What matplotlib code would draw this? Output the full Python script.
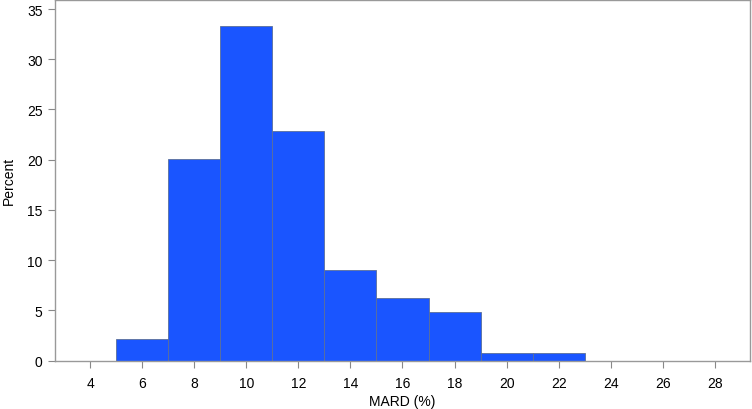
import numpy as np
import matplotlib.pyplot as plt

plt.rcParams['font.family'] = ['Liberation Sans', 'DejaVu Sans']

# histogram data
bin_edges = [5, 7, 9, 11, 13, 15, 17, 19, 21, 23]
percent = [2.1, 20.1, 33.3, 22.9, 9.0, 6.2, 4.8, 0.7, 0.7]
xticks = [4, 6, 8, 10, 12, 14, 16, 18, 20, 22, 24, 26, 28]
yticks = [0, 5, 10, 15, 20, 25, 30, 35]

fig = plt.figure(figsize=(7.52, 4.10), dpi=100)
ax = fig.add_axes([55 / 752, 48.5 / 410, 695 / 752, 360.5 / 410])

lefts = np.array(bin_edges[:-1])
widths = np.diff(bin_edges)
ax.bar(lefts, percent, width=widths, align='edge', color='#1a55ff',
       edgecolor='#5a6f9a', linewidth=0.6)

ax.set_xlim(2.65, 29.35)
ax.set_ylim(0, 35.9)
ax.set_xticks(xticks)
ax.set_yticks(yticks)
ax.tick_params(direction='out', length=5, color='#888888', labelsize=10,
               pad=4)
ax.tick_params(axis='x', pad=6)

for s in ax.spines.values():
    s.set_color('#999999')
    s.set_linewidth(1)

ax.set_xlabel('MARD (%)', fontsize=10)
ax.xaxis.set_label_coords(0.5, -0.094)
ax.set_ylabel('Percent', fontsize=10)
ax.yaxis.set_label_coords(-0.057, 0.5)

plt.savefig('out.png', dpi=100)
